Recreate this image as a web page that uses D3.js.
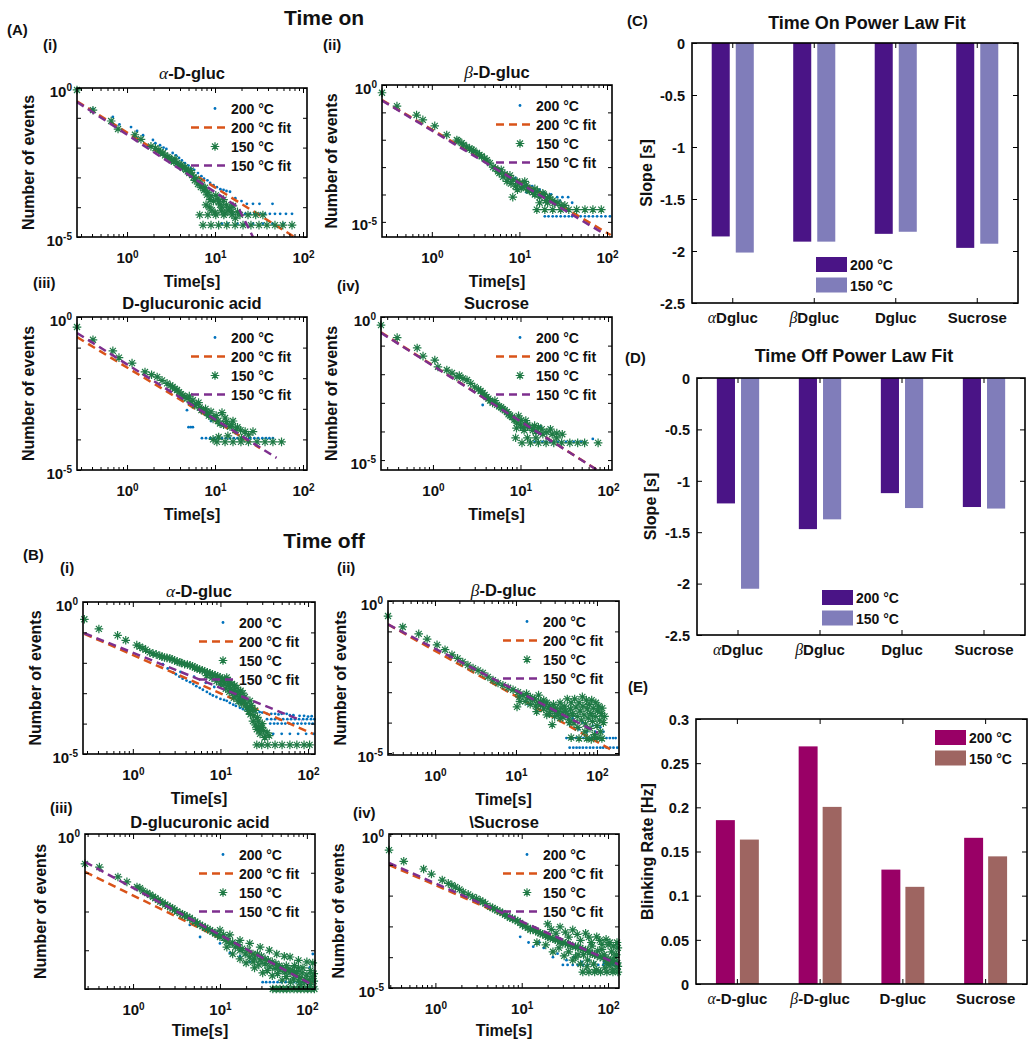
<!DOCTYPE html>
<html><head><meta charset="utf-8">
<script src="https://cdn.jsdelivr.net/npm/d3@7"></script>
<style>body{margin:0;background:#fff}svg{display:block}</style>
</head><body>
<svg id="fig" width="1035" height="1050"></svg>
<script>
// ================= DATA =================
const legendLabels = ["200 °C", "200 °C fit", "150 °C", "150 °C fit"];
const timeTicks = [1, 10, 100];
const countTicks = [1, 1e-1, 1e-2, 1e-3, 1e-4, 1e-5];
const labeledExponents = [0, -5];
const slopeTicks = [-2.5, -2, -1.5, -1, -0.5, 0];
const blinkTicks = [0, 0.05, 0.1, 0.15, 0.2, 0.25, 0.3];
const slopeCats = ["αDgluc", "βDgluc", "Dgluc", "Sucrose"];
const blinkCats = ["α-D-gluc", "β-D-gluc", "D-gluc", "Sucrose"];
const tempKeys = ["200 °C", "150 °C"];

const onSlope200 = [-1.86, -1.91, -1.835, -1.97];
const onSlope150 = [-2.015, -1.91, -1.815, -1.93];
const offSlope200 = [-1.22, -1.47, -1.12, -1.255];
const offSlope150 = [-2.05, -1.375, -1.265, -1.27];
const blink200 = [0.1855, 0.269, 0.1295, 0.1655];
const blink150 = [0.1635, 0.2005, 0.110, 0.1445];

// ---- Time on, alpha-D-gluc ----
const onAlpha200 = [[0.27,0.86],[0.41,0.2],[0.69,0.107],[0.82,0.06],[1.11,0.049],[1.3,0.036],[1.52,0.026],[1.97,0.018],[2.1,0.014],[2.37,0.012],[2.6,0.01],[2.8,0.009],[3.3,0.0066],[3.6,0.0055],[3.9,0.0045],[4.2,0.0037],[4.55,0.003],[5,0.0025],[5.3,0.002],[5.8,0.0018],[6.4,0.0014],[7,0.0011],[7.5,9e-4],[8.2,8e-4],[8.8,6.5e-4],[9.6,5.5e-4],[10.5,4.7e-4],[11.5,4e-4],[12.5,3.8e-4],[13.5,3.5e-4],[14.8,3.3e-4],[17,2e-4],[20,1.6e-4],[23,1.3e-4],[27,1.3e-4],[32,1.3e-4],[45,1.3e-4],
  [16,6e-5],[19,6e-5],[22,6e-5],[25,6e-5],[28,6e-5],[32,6e-5],[37,6e-5],[42,6e-5],[48,6e-5],[55,6e-5],[64,6e-5],[75,6e-5],
  [12,2.8e-5],[14,2.8e-5],[18,2.8e-5],[22,2.8e-5],[27,2.8e-5],[35,2.8e-5],[45,2.8e-5],[60,2.8e-5]];
const onAlpha150 = [[0.27,0.86],[0.41,0.18],[0.66,0.078],[0.79,0.042],[1.23,0.027],[1.44,0.019],[1.87,0.011],[2.1,0.0095],[2.3,0.0083],[2.4,0.007],[2.56,0.0066],[2.7,0.0055],[2.9,0.0048],[3.0,0.0045],[3.2,0.0038],[3.4,0.0034],[3.5,0.0042],[3.7,0.003],[3.9,0.0027],[4.1,0.0026],[4.3,0.0021],[4.55,0.0022],[4.7,0.0018],[4.9,0.0016],[5.1,0.0014],[5.3,0.0017],[5.5,0.0012],[5.7,0.001],[5.9,8e-4],[6.1,9e-4],[6.4,6e-4],[6.6,7e-4],[6.9,4.7e-4],[7.1,5.5e-4],[7.5,3.7e-4],[7.7,4.5e-4],[8.1,2.6e-4],[8.3,3.2e-4],[8.8,1.8e-4],[9,2.4e-4],[9.6,1.6e-4],[7.9,1.2e-4],[8.6,1e-4],[9.2,8e-5],[10,6.5e-5],[10.2,2.5e-4],[10.8,2e-4],[11,1.5e-4],[11.4,1.2e-4],[11.8,7.5e-5],[12,1e-4],[12.5,1.8e-4],[13,6.3e-5],[13.5,1.2e-4],[14,8e-5],[14.7,9.5e-5],[15.5,7e-5],[16,1.1e-4],[17,4.3e-5],[18,7e-5],
  [6.7,5.5e-5],[8.3,5.5e-5],[10.2,5.5e-5],[12.6,5.5e-5],[15.6,5.5e-5],[19.2,5.5e-5],[23.7,5.5e-5],[29,5.5e-5],[35,5.5e-5],
  [7.3,2.5e-5],[9,2.5e-5],[11,2.5e-5],[13.6,2.5e-5],[16.9,2.5e-5],[20.8,2.5e-5],[25.6,2.5e-5],[31.6,2.5e-5],[38.9,2.5e-5],[48,2.5e-5],[59,2.5e-5],[75,2.5e-5]];
const onAlphaFit200 = [[0.27,0.36],[80,1e-5]];
const onAlphaFit150 = [[0.27,0.34],[18.3,1e-4],[27,1e-5]];

// ---- Time on, beta-D-gluc ----
const onBeta200 = [[0.27,0.52],[0.4,0.17],[0.67,0.08],[1.08,0.032],[1.48,0.015],[2.5,0.0055],[4.25,0.0018],[6.5,4.4e-4],[7,6e-4],[9,4e-4],[10.1,2.6e-4],[11,3e-4],[12,1.2e-4],[13,2e-4],[14,2e-4],[15,1.3e-4],[17,1.5e-4],[19,1.2e-4],[22,9e-5],[23,1e-4],[27,8e-5],[31,8e-5],[36,8e-5],[29,6e-5],[40,5e-5],
  [19.5,1.6e-5],[21.5,1.6e-5],[24,1.6e-5],[26.5,1.6e-5],[29.6,1.6e-5],[33,1.6e-5],[36.6,1.6e-5],[40,1.6e-5],[45,1.6e-5],[50,1.6e-5],[56,1.6e-5],[62,1.6e-5],[69,1.6e-5],[77,1.6e-5],[86,1.6e-5],[96,1.6e-5],[108,1.6e-5]];
const onBeta150 = [[0.27,0.52],[0.4,0.17],[0.67,0.08],[0.79,0.053],[1.08,0.032],[1.48,0.015],[1.93,0.0098],[2.0,0.009],[2.2,0.0075],[2.3,0.0065],[2.5,0.0055],[2.7,0.0048],[2.85,0.0043],[3.0,0.004],[3.27,0.0033],[3.5,0.0028],[3.7,0.0025],[4.0,0.0021],[4.25,0.0018],[4.6,0.0014],[5,0.001],[5.3,9e-4],[5.7,7e-4],[5.9,6e-4],[6.2,8e-4],[6.5,4.4e-4],[6.8,5.5e-4],[7.2,3e-4],[7.5,4e-4],[7.8,5e-4],[8,2.5e-4],[8.5,3.5e-4],[8.4,8e-5],[9,2e-4],[9.4,3e-4],[9.5,1.5e-4],[10.1,2.6e-4],[10.5,1.7e-4],[11,1.9e-4],[11.5,3e-4],[12,2.2e-4],[12.5,1.5e-4],[13,1.4e-4],[14.2,1.2e-4],[15,1e-4],[15,1.6e-4],[16,1.3e-4],[17,8e-5],[18.5,1.1e-4],[19,1e-4],[20,6e-5],[21,7.5e-5],[22,8e-5],[24,6e-5],[25,5e-5],[27.5,5e-5],[30,4e-5],[33,4e-5],[17,5e-5],[21,5e-5],
  [15.8,2.8e-5],[19.5,2.8e-5],[24,2.8e-5],[29.6,2.8e-5],[36.6,2.8e-5],[45,2.8e-5],[56,2.8e-5],[69,2.8e-5],[86,2.8e-5]];
const onBetaFit200 = [[0.27,0.28],[110,3.3e-6]];
const onBetaFit150 = [[0.27,0.27],[85,4.3e-6]];

// ---- Time on, D-glucuronic acid ----
const onDglu200 = [[0.27,0.47],[0.41,0.18],[0.69,0.078],[1.14,0.031],[1.6,0.016],[2.2,0.011],[2.85,0.0068],[3.7,0.0041],[4.55,0.0024],[4.8,9e-4],[5.0,2.5e-4],[5.3,2.5e-4],[5.6,2.5e-4],[6,0.0014],[6.7,0.0011],[7.5,7e-4],[8.1,6e-4],[9,4e-4],
  [7.1,1.1e-4],[7.9,1.1e-4],[8.8,1.1e-4],[9.8,1.1e-4],[10.8,1.1e-4],[12,1.1e-4],[13.3,1.1e-4],[14.8,1.1e-4],[16.4,1.1e-4],[18,1.1e-4],[20,1.1e-4],[22.5,1.1e-4],[25,1.1e-4],[28,1.1e-4],[31,1.1e-4],[34.5,1.1e-4],[38,1.1e-4],[41.5,1.1e-4],[45.5,1.1e-4]];
const onDglu150 = [[0.27,0.47],[0.41,0.18],[0.69,0.078],[0.81,0.047],[1.14,0.031],[1.6,0.016],[1.9,0.013],[2.2,0.011],[2.5,0.0085],[2.85,0.0068],[3.1,0.0058],[3.3,0.0052],[3.5,0.0045],[3.7,0.0041],[3.9,0.0035],[4.1,0.003],[4.3,0.0027],[4.55,0.0024],[4.8,0.0022],[5.1,0.0026],[5.3,0.0017],[5.6,0.0019],[5.9,0.0013],[6.2,0.0014],[6.5,0.0016],[6.7,0.0011],[7,9e-4],[7.4,9e-4],[7.8,0.001],[8.1,7.5e-4],[8.5,6e-4],[9,8e-4],[9.5,4.7e-4],[10,5e-4],[10.3,6e-4],[10.8,4e-4],[11.4,3.3e-4],[12,7.5e-4],[12.5,3e-4],[13,5e-4],[13.5,3.8e-4],[14.8,2.6e-4],[15.5,3e-4],[16,4e-4],[17,2e-4],[18,2.5e-4],[19.5,2e-4],[22,1.8e-4],[24,1.4e-4],[27,1.8e-4],[9.5,1e-4],[11,1.2e-4],[14,1.3e-4],[20,1.1e-4],
  [10.5,8.3e-5],[13,8.3e-5],[16,8.3e-5],[19.7,8.3e-5],[24,8.3e-5],[30,8.3e-5],[37,8.3e-5],[45.5,8.3e-5],[57,8.3e-5]];
const onDgluFit200 = [[0.27,0.22],[32.5,5.2e-5]];
const onDgluFit150 = [[0.27,0.3],[50,2.5e-5]];

// ---- Time on, Sucrose ----
const onSuc200 = [[0.255,0.52],[0.39,0.19],[0.66,0.083],[1.05,0.031],[1.44,0.014],[2.45,0.0063],[3.7,8.4e-4],[5.4,8.5e-4],[8,3.2e-4],[10.7,1.4e-4],[12,1.6e-4],[13.8,1.2e-4],[17,1.5e-4],[22,1.3e-4],[67,5.5e-5],
  [13,4.3e-5],[14.5,4.3e-5],[16,4.3e-5],[17.8,4.3e-5],[19.6,4.3e-5],[21.8,4.3e-5],[24,4.3e-5],[26.7,4.3e-5],[29.5,4.3e-5],[33,4.3e-5],[36.6,4.3e-5],[40.5,4.3e-5],[45,4.3e-5],[49.5,4.3e-5],[54,4.3e-5]];
const onSuc150 = [[0.255,0.52],[0.39,0.19],[0.66,0.083],[0.77,0.043],[1.05,0.031],[1.14,0.018],[1.44,0.014],[1.65,0.011],[1.88,0.0081],[2.0,0.009],[2.2,0.0072],[2.45,0.0063],[2.7,0.0048],[3.0,0.0036],[3.3,0.003],[3.5,0.0026],[3.7,0.0022],[3.9,0.0019],[4.1,0.0016],[4.3,0.0014],[4.5,0.0012],[4.8,0.001],[5.1,0.0012],[5.4,8.5e-4],[5.7,7.5e-4],[6.0,7e-4],[6.3,6e-4],[6.6,5.6e-4],[7,4.8e-4],[7.3,4e-4],[7.6,3.6e-4],[8,3.2e-4],[8.5,2.6e-4],[9.1,2e-4],[9,1.3e-4],[9.5,3.5e-4],[10,1.7e-4],[10.2,2.5e-4],[10.7,1.4e-4],[11,1.1e-4],[11.5,2.4e-4],[12,1.7e-4],[12.8,1.4e-4],[13.8,1.1e-4],[14.5,1.6e-4],[15,1e-4],[16,1.4e-4],[17.5,1.2e-4],[18,8e-5],[20,9.5e-5],[22,1.2e-4],[23,8e-5],[26,8.8e-5],[26,6e-5],[30,8e-5],[8.8,6e-5],[12,6e-5],[15,6e-5],
  [10.4,4e-5],[13,4e-5],[16,4e-5],[19.6,4e-5],[24,4e-5],[29.5,4e-5],[36.6,4e-5],[45,4e-5],[54,4e-5],[77,4e-5]];
const onSucFit200 = [[0.255,0.29],[80,4e-6]];
const onSucFit150 = [[0.255,0.28],[75,4.5e-6]];

// ---- Time off, alpha-D-gluc ----
const offAlpha200 = [[0.28,0.27],[0.41,0.13],[0.67,0.08],[1.11,0.038],[1.56,0.022],[2.2,0.009],[2.5,0.0065],[2.87,0.0048],[3.1,0.0042],[3.4,0.0035],[3.5,0.005],[3.7,0.003],[4.1,0.0026],[4.5,0.0023],[4.9,0.002],[5,0.0035],[5.3,0.0017],[5.8,0.0015],[6.3,0.0013],[6.8,0.0022],[7,0.0011],[7.6,9.5e-4],[8.2,8.4e-4],[8.5,0.0016],[9,7.5e-4],[10,6.5e-4],[11,6e-4],[11.8,5.6e-4],[12.8,4.8e-4],[14,4.2e-4],[15,3.8e-4],[16.7,3.3e-4],[18,3e-4],[20,2.7e-4],[21,2.9e-4],[23.5,2.7e-4],[25,2.5e-4],[28,2.4e-4],[30,2.3e-4],[34,2.1e-4],[38,2.1e-4],[42,2.1e-4],[46,2e-4],[50,2.1e-4],[57,2.1e-4],[62,1.9e-4],[68,1.9e-4],[80,1.8e-4],[90,1.8e-4],[100,1.7e-4],[110,1.75e-4],
  [34,1.4e-4],[38,1.4e-4],[42,1.4e-4],[47,1.4e-4],[52,1.4e-4],[58,1.4e-4],[64,1.4e-4],[71,1.4e-4],[79,1.4e-4],[88,1.4e-4],[97,1.4e-4],[108,1.4e-4],[118,1.4e-4],
  [37,1e-4],[41,1e-4],[45,1e-4],[50,1e-4],[55,1e-4],[61,1e-4],[68,1e-4],[76,1e-4],[84,1e-4],[93,1e-4],[103,1e-4],[113,1e-4],
  [40,4.6e-5],[50,4.6e-5],[62,4.6e-5],[77,4.6e-5],[95,4.6e-5],[115,4.6e-5]];
const offAlpha150 = [[0.28,0.27],[0.41,0.13],[0.67,0.08],[0.83,0.055],[1.11,0.038],[1.2,0.034],[1.3,0.03],[1.4,0.027],[1.56,0.022],[1.7,0.02],[1.85,0.019],[2.03,0.017],[2.15,0.016],[2.3,0.015],[2.45,0.0145],[2.65,0.014],[2.8,0.013],[3.0,0.012],[3.2,0.011],[3.45,0.0103],[3.6,0.0098],[3.9,0.009],[4.2,0.0088],[4.5,0.0082],[4.8,0.0077],[5.1,0.007],[5.4,0.0065],[5.8,0.006],[6.2,0.0057],[6.6,0.0052],[7,0.0038],[7.1,0.0049],[7.6,0.0045],[8,0.0032],[8.1,0.0042],[8.7,0.0039],[9,0.0025],[9.3,0.0036],[9.9,0.0033],[10,0.002],[10.5,0.003],[10.8,0.0025],[11,0.002],[11.5,0.0014],[11.8,0.0033],[12,0.0027],[12.3,0.0018],[12.6,0.0011],[12.8,0.0023],[13,0.0014],[13.5,0.002],[13.8,0.001],[14,0.0012],[14.2,7e-4],[14.5,0.0018],[15,9e-4],[15.4,0.0015],[15.8,0.0011],[16,5.5e-4],[16.5,7.5e-4],[16.7,5.6e-4],[17,0.0012],[17.5,4.5e-4],[18,0.001],[18.5,6e-4],[19,7.5e-4],[19.5,4.5e-4],[20,3.3e-4],[20.5,3.5e-4],[21,2.5e-4],[21.7,5.6e-4],[22,2e-4],[22.5,4e-4],[23,3e-4],[23.5,1.2e-4],[24,1.8e-4],[24.8,2.7e-4],[25,9e-5],[26,6.5e-5],[26.5,1.6e-4],[27,1.2e-4],[27,8e-5],[28,6e-5],[28.3,4.6e-5],[29.6,7.4e-5],[30,1e-4],[31,6e-5],[32,3.5e-5],[34,5e-5],[36,4e-5],
  [26,2e-5],[29.6,2e-5],[34.7,2e-5],[42,2e-5],[50.5,2e-5],[62,2e-5],[74.5,2e-5],[90,2e-5],[104,2e-5]];
const offAlphaFit200 = [[0.28,0.09],[114,4.6e-5]];
const offAlphaFit150 = [[0.28,0.094],[85,1.25e-4]];

// ---- Time off, beta-D-gluc ----
const offBeta200 = [[0.263,0.32],[0.4,0.14],[0.63,0.083],[1.06,0.036],[1.62,0.017],[2.2,0.0099],[2.95,0.0062],[3.9,0.0043],[5.2,0.0025],[6.9,0.0017],[9.2,0.0012],[12.2,8e-4],[14,4e-4],[16.2,5.6e-4],[20,2.5e-4],[21.6,3.5e-4],[28.6,2.4e-4],[30,1.5e-4],[38,1.8e-4],[45,9e-5],[50,1.4e-4],[60,6e-5],[67,1e-4],[75,5e-5],[89,8e-5],[95,5e-5],[110,7e-5],[120,5e-5],
  [42,3.1e-5],[46,3.1e-5],[50,3.1e-5],[55,3.1e-5],[62,3.1e-5],[68,3.1e-5],[75,3.1e-5],[82,3.1e-5],[89,3.1e-5],[98,3.1e-5],[108,3.1e-5],[119,3.1e-5],[131,3.1e-5],[144,3.1e-5],[158,3.1e-5],[170,3.1e-5],
  [46,1.5e-5],[51,1.5e-5],[56,1.5e-5],[61,1.5e-5],[67,1.5e-5],[74,1.5e-5],[82,1.5e-5],[90,1.5e-5],[100,1.5e-5],[110,1.5e-5],[119,1.5e-5],[131,1.5e-5],[145,1.5e-5],[160,1.5e-5],[178,1.5e-5]];
const offBeta150 = [[0.263,0.32],[0.4,0.14],[0.63,0.083],[0.8,0.056],[1.06,0.036],[1.33,0.025],[1.62,0.017],[1.9,0.013],[2.2,0.0099],[2.55,0.0078],[2.95,0.0062],[3.4,0.0052],[3.9,0.0043],[4.5,0.0032],[5.2,0.0025],[6,0.002],[6.9,0.0017],[8,0.0014],[9.2,0.0012],[10.3,3.3e-4],[10.6,0.001],[11.2,5e-4],[12.2,8e-4],[14,6.5e-4],[16.2,5.6e-4],[18,2.3e-4],[18.8,4.5e-4],[20,5e-4],[21.6,4e-4],[24,1.8e-4],[25,3e-4],[28.6,2.7e-4],[28,8.6e-5],[33,2.3e-4],[35,1.4e-4],[38,2.1e-4],[44,1.8e-4],[46,1e-4],
  [11,7e-4],[13,5e-4],[13.5,9e-4],[15,7e-4],[15,4e-4],[17,6e-4],[17.5,3.5e-4],[19,8e-4],[20,3.8e-4],[22,5.5e-4],[22,2.8e-4],[24,4.5e-4],[26,3.5e-4],[26,2e-4],[29,4e-4],[30,1.6e-4],[31,3e-4],[33,2e-4],[35,4.5e-4],[36,3e-4],[38,1.5e-4],[40,3.5e-4],[41,2.4e-4],[43,6e-4],[45,1.3e-4],[47,2.8e-4],[48,4.5e-4],[50,2e-4],[52,1e-4],[53,6e-4],[55,3.2e-4],[57,1.6e-4],[58,7e-5],[60,4.5e-4],[62,2.4e-4],[64,1.2e-4],[66,7e-4],[67,3.5e-4],[69,1.8e-4],[71,5e-5],[72,9e-5],[74,5.5e-4],[76,2.8e-4],[78,1.4e-4],[80,4e-4],[82,6.5e-5],[84,2e-4],[86,5.5e-4],[88,1.1e-4],[90,3e-4],[93,4e-5],[95,1.6e-4],[97,4.5e-4],[100,8e-5],[102,2.4e-4],[105,3.5e-4],[108,1.2e-4],[110,5e-5],[113,2e-4],[116,3e-4],[120,1e-4],[124,1.6e-4],
  [48,3.2e-5],[60,3e-5],[75,3e-5],[85,2.8e-5],[100,3.2e-5],[115,3e-5]];
const offBetaFit200 = [[0.263,0.17],[145,1.35e-5]];
const offBetaFit150 = [[0.263,0.17],[103,4.6e-5]];

// ---- Time off, D-glucuronic acid ----
const offDglu200 = [[0.28,0.17],[0.41,0.14],[0.67,0.078],[1.11,0.043],[2.05,0.018],[3.47,0.0091],[4.5,0.0045],[5.9,0.0022],[10,0.0015],[13,8.5e-4],[17,7e-4],[22,5e-4],[108,3.6e-4],[117,8e-4],
  [31,1.5e-4],[34,1.5e-4],[37.6,1.5e-4],[41.5,1.5e-4],[46,1.5e-4],[51,1.5e-4],[57,1.5e-4],[63,1.5e-4],[71,1.5e-4],[78,1.5e-4],[88,1.5e-4],[97,1.5e-4],[108,1.5e-4],[118,1.5e-4]];
const offDglu150 = [[0.28,0.17],[0.41,0.14],[0.67,0.078],[0.85,0.058],[1.11,0.043],[1.2,0.04],[1.3,0.034],[1.45,0.03],[1.57,0.027],[1.7,0.024],[1.8,0.022],[1.95,0.02],[2.05,0.018],[2.2,0.017],[2.35,0.015],[2.5,0.014],[2.66,0.013],[2.85,0.012],[3.0,0.011],[3.2,0.01],[3.47,0.0091],[3.7,0.0085],[3.9,0.008],[4.2,0.0073],[4.5,0.0068],[4.8,0.006],[5.2,0.0055],[5.5,0.005],[5.9,0.0045],[6.3,0.0042],[6.8,0.0038],[7.2,0.0035],[7.7,0.0033],[8.2,0.003],[8.8,0.0027],[9.4,0.0025],[10,0.0022],[11,0.0025],[11.5,0.0018],[12,0.002],[13,0.0015],[14,0.0016],[15,0.0012],[16,0.0014],[17,0.001],[18,0.0011],[19.5,8e-4],[21,0.001],[22,6.7e-4],[24,8e-4],[24,5e-4],[25,6e-4],[27,8e-4],[28,4.2e-4],[29,5.6e-4],[30,7e-4],[33,4.5e-4],[33,6e-4],[35,3e-4],[36,5.5e-4],[37.6,3.7e-4],[40,5e-4],[43,3.4e-4],[44,4.5e-4],[46,2.5e-4],[48,4e-4],[49,3.1e-4],[52,3.6e-4],[56,2.8e-4],[58,4e-4],[58,2.1e-4],[62,3.3e-4],[64,2.6e-4],[68,3e-4],[70,1.8e-4],[72,4e-4],[73,2.3e-4],[76,2.8e-4],[80,3.5e-4],[80,1.6e-4],[83,2e-4],[88,2.6e-4],[90,3.5e-4],[95,1.8e-4],[95,1.5e-4],[100,2.3e-4],[108,1.7e-4],[110,3e-4],[110,1.3e-4],[115,2.1e-4],[120,2.5e-4],[120,1.6e-4],
  [10,0.0033],[13,0.0025],[17,0.0018],[22,0.0015],[29,0.0012],[37,0.001],[45,8e-4],[55,7e-4],[64,6.7e-4],[80,5.5e-4],[100,5e-4],[117,4.7e-4],
  [12,0.0012],[14,8e-4],[17,6e-4],[20,4.7e-4],[25,3.5e-4],[31,2.6e-4],[40,2.2e-4],[52,1.7e-4],[65,1.5e-4],[85,1.3e-4],
  [40.5,1e-4],[44.5,1e-4],[49,1e-4],[53.5,1e-4],[58.6,1e-4],[64,1e-4],[71,1e-4],[77.5,1e-4],[85,1e-4],[93,1e-4],[102,1e-4],[112,1e-4],[122,1e-4]];
const offDgluFit200 = [[0.28,0.105],[117,1.4e-4]];
const offDgluFit150 = [[0.28,0.19],[117,1.26e-4]];

// ---- Time off, Sucrose ----
const offSuc200 = [[0.29,0.3],[0.43,0.13],[0.73,0.073],[1.2,0.032],[2.1,0.013],[3.3,0.007],[5.6,0.003],[9.6,4.6e-4],[12,3e-4],[13.6,2.2e-4],[16,3e-4],[18,2e-4],[23,1e-4],[26,1.3e-4],[33,8e-5],[40,1e-4],[50,7e-5],[60,8e-5],[70,6.5e-5],[90,7e-5],[110,6e-5],
  [30,5.6e-5],[34,5.6e-5],[39,5.6e-5],[44.5,5.6e-5],[51,5.6e-5],[58,5.6e-5],[67,5.6e-5],[77,5.6e-5],[88,5.6e-5],[100,5.6e-5],[114,5.6e-5],[125,5.6e-5]];
const offSuc150 = [[0.29,0.3],[0.43,0.13],[0.73,0.073],[0.9,0.05],[1.2,0.032],[1.41,0.025],[1.55,0.022],[1.7,0.019],[1.9,0.016],[2.1,0.013],[2.4,0.011],[2.7,0.009],[3.0,0.008],[3.3,0.007],[3.55,0.0062],[3.8,0.0055],[4.3,0.0043],[4.6,0.004],[4.9,0.0036],[5.2,0.0033],[5.6,0.003],[6.0,0.0027],[6.4,0.0024],[6.8,0.0022],[7.3,0.0019],[7.8,0.0018],[8.4,0.0016],[9,0.0015],[9.6,0.0013],[10.2,0.0011],[11,0.001],[11.8,9e-4],[12.6,7.7e-4],[13.5,8e-4],[14.5,7e-4],[15.5,6.5e-4],[16.4,6e-4],[17.5,5.5e-4],[19,5e-4],[20,4.6e-4],[21.4,4.2e-4],[23,4e-4],[24.5,3.7e-4],[26,3.5e-4],[27.8,3.2e-4],[30,3e-4],[32,2.8e-4],[34,2.6e-4],[36.4,2.5e-4],[39,2.3e-4],[42,2.2e-4],[45,2.1e-4],[47.5,2e-4],[51,1.8e-4],[55,1.7e-4],[58,1.6e-4],[62,1.4e-4],[66,1.3e-4],[70,1.2e-4],[75,1.1e-4],[81,1e-4],[88,9.5e-5],[95,9e-5],[100,8.5e-5],[106,8e-5],[113,7.5e-5],[120,7e-5],[128,6.5e-5],
  [20,0.0012],[22,8e-4],[25,6e-4],[27.8,9.6e-4],[32,6.5e-4],[35,4.5e-4],[39,7.7e-4],[44,5.5e-4],[48,3.5e-4],[55,6e-4],[60,4.5e-4],[64,3e-4],[74,4.6e-4],[80,3.5e-4],[85,2.6e-4],[95,3.8e-4],[105,3e-4],[115,2.3e-4],[127,3e-4],[130,2e-4],
  [15,3e-4],[19,2.5e-4],[23,1.5e-4],[27,2e-4],[31,1.1e-4],[35,1.5e-4],[39,8e-5],[42,1e-4],[45,1.2e-4],[48,6e-5],[52,1.2e-4],[57,4.9e-5],[58,8e-5],[65,2.3e-4],[68,6e-5],[74,3.9e-5],[76,1.6e-4],[85,1.8e-4],[90,1.2e-4],[92,4.5e-5],[97,6.3e-5],[100,2.5e-4],[105,5.5e-5],[110,1.5e-4],[114,3.9e-5],[120,1e-4],[125,1.2e-4],[130,5e-5],
  [51,3.3e-5],[60,3.3e-5],[70,3.3e-5],[82,3.3e-5],[97,3.3e-5],[114,3.3e-5],[130,3.3e-5]];
const offSucFit200 = [[0.29,0.1],[137,5.2e-5]];
const offSucFit150 = [[0.29,0.115],[137,5.6e-5]];

// ================= STYLE / LAYOUT =================
const FONT = "'Liberation Sans', Arial, Helvetica, sans-serif";
const SERIF = "'Liberation Serif', 'DejaVu Serif', serif";
const BLUE = "#0072bd", ORANGE = "#d95319", GREEN = "#1f7a45", PURPLE = "#7e2f8e";
const svg = d3.select("#fig").attr("font-family", FONT);

const scatterPanels = [
  {box:[77,88,307,237],  xd:[0.27,111],  yd:[1e-5,1],   title:"α-D-gluc",          tY:79,  yl:28,  xlY:287, s200:onAlpha200, s150:onAlpha150, f200:onAlphaFit200, f150:onAlphaFit150},
  {box:[382,85,612,237], xd:[0.27,114],  yd:[2.8e-6,1], title:"β-D-gluc",          tY:78,  yl:331, xlY:287, s200:onBeta200,  s150:onBeta150,  f200:onBetaFit200,  f150:onBetaFit150},
  {box:[77,317,307,470], xd:[0.27,111],  yd:[1e-5,1],   title:"D-glucuronic acid", tY:309, yl:28,  xlY:520, s200:onDglu200,  s150:onDglu150,  f200:onDgluFit200,  f150:onDgluFit150},
  {box:[381,317,612,470],xd:[0.255,111], yd:[4.5e-6,1], title:"Sucrose",           tY:309, yl:331, xlY:520, s200:onSuc200,   s150:onSuc150,   f200:onSucFit200,   f150:onSucFit150},
  {box:[83,602,315,754], xd:[0.27,120],  yd:[1e-5,1],   title:"α-D-gluc",          tY:597, yl:35,  xlY:804, s200:offAlpha200,s150:offAlpha150,f200:offAlphaFit200,f150:offAlphaFit150},
  {box:[388,601,619,755],xd:[0.263,187], yd:[8.6e-6,1], title:"β-D-gluc",          tY:596, yl:340, xlY:805, s200:offBeta200, s150:offBeta150, f200:offBetaFit200, f150:offBetaFit150},
  {box:[85,834,315,989], xd:[0.28,124],  yd:[1e-4,1],   title:"D-glucuronic acid", tY:828, yl:40,  xlY:1036,s200:offDglu200, s150:offDglu150, f200:offDgluFit200, f150:offDgluFit150},
  {box:[389,834,619,988],xd:[0.29,134],  yd:[1e-5,1],   title:"\\Sucrose",         tY:828, yl:338, xlY:1036,s200:offSuc200,  s150:offSuc150,  f200:offSucFit200,  f150:offSucFit150}
];

const annotations = [
  {t:"(A)", x:7, y:35}, {t:"(i)", x:43, y:50}, {t:"(ii)", x:323, y:50},
  {t:"Time on", x:324, y:25, s:21, a:"middle"}, {t:"(C)", x:627, y:26},
  {t:"(iii)", x:33, y:288}, {t:"(iv)", x:337, y:291}, {t:"(D)", x:625, y:363},
  {t:"(B)", x:23, y:560}, {t:"(i)", x:60, y:573},
  {t:"Time off", x:324, y:548, s:21, a:"middle"}, {t:"(ii)", x:337, y:573},
  {t:"(E)", x:628, y:692}, {t:"(iii)", x:50, y:813}, {t:"(iv)", x:353, y:818}
];

const r = 4.3, q = 3.0;
const ASTER = `M${-r},0H${r}M0,${-r}V${r}M${-q},${-q}L${q},${q}M${-q},${q}L${q},${-q}`;

function richText(sel, str, size) {
  const c = str[0];
  if (c === "α" || c === "β") {
    sel.append("tspan").attr("font-family", SERIF).attr("font-style", "italic")
      .attr("font-weight", "normal").attr("font-size", size * 1.05).text(c);
    sel.append("tspan").text(str.slice(1));
  } else sel.text(str);
}
function supLabel(sel, v) {
  sel.text(null);
  sel.append("tspan").text("10");
  sel.append("tspan").attr("dy", "-0.55em").attr("font-size", "10px").text(String(Math.round(Math.log10(v))));
}
const isDecade = v => Math.abs(Math.log10(v) - Math.round(Math.log10(v))) < 1e-6;

function styleAxis(g, size) {
  g.attr("font-family", FONT).attr("font-size", size).attr("font-weight", "bold");
  g.select(".domain").remove();
  g.selectAll("line").attr("stroke", "#000");
  g.selectAll("text").attr("fill", "#111");
}

function drawScatter(p, i) {
  const [L, T, R, B] = p.box;
  const x = d3.scaleLog().domain(p.xd).range([L, R]);
  const y = d3.scaleLog().domain(p.yd).range([B, T]);
  const cid = "clip" + i;
  svg.append("clipPath").attr("id", cid).append("rect")
    .attr("x", L).attr("y", T).attr("width", R - L).attr("height", B - T);
  const g = svg.append("g");
  const line = d3.line().x(d => x(d[0])).y(d => y(d[1]));

  g.append("g").selectAll("circle").data(p.s200).join("circle")
    .attr("cx", d => x(d[0])).attr("cy", d => y(d[1])).attr("r", 1.4).attr("fill", BLUE);
  g.append("path").attr("d", line(p.f200)).attr("clip-path", `url(#${cid})`)
    .attr("fill", "none").attr("stroke", ORANGE).attr("stroke-width", 2.5).attr("stroke-dasharray", "8,5");
  g.append("g").selectAll("path").data(p.s150).join("path")
    .attr("transform", d => `translate(${x(d[0])},${y(d[1])})`)
    .attr("d", ASTER).attr("fill", "none").attr("stroke", GREEN).attr("stroke-width", 1.2);
  g.append("path").attr("d", line(p.f150)).attr("clip-path", `url(#${cid})`)
    .attr("fill", "none").attr("stroke", PURPLE).attr("stroke-width", 2.5).attr("stroke-dasharray", "8,5");

  const majors = timeTicks.filter(v => v >= p.xd[0] && v <= p.xd[1]);
  const minors = x.ticks().filter(v => !isDecade(v));
  const yt = countTicks.filter(v => v >= p.yd[0] * 0.999 && v <= p.yd[1] * 1.001);

  const gx = g.append("g").attr("transform", `translate(0,${B})`)
    .call(d3.axisBottom(x).tickValues(majors).tickSizeInner(-5).tickSizeOuter(0));
  styleAxis(gx, 15);
  gx.selectAll("text").attr("dy", null).attr("y", 26).each(function(d) { supLabel(d3.select(this), d); });
  const gxm = g.append("g").attr("transform", `translate(0,${B})`)
    .call(d3.axisBottom(x).tickValues(minors).tickSizeInner(-3).tickSizeOuter(0).tickFormat(() => ""));
  styleAxis(gxm, 10);
  const gt = g.append("g").attr("transform", `translate(0,${T})`)
    .call(d3.axisTop(x).tickValues(majors).tickSizeInner(-5).tickSizeOuter(0).tickFormat(() => ""));
  styleAxis(gt, 10);
  const gtm = g.append("g").attr("transform", `translate(0,${T})`)
    .call(d3.axisTop(x).tickValues(minors).tickSizeInner(-3).tickSizeOuter(0).tickFormat(() => ""));
  styleAxis(gtm, 10);

  const gy = g.append("g").attr("transform", `translate(${L},0)`)
    .call(d3.axisLeft(y).tickValues(yt).tickSizeInner(-4).tickSizeOuter(0).tickPadding(5));
  styleAxis(gy, 15);
  gy.selectAll("text").attr("dy", null).attr("y", 8).each(function(d) {
    const e = Math.round(Math.log10(d));
    if (labeledExponents.includes(e)) supLabel(d3.select(this), d); else d3.select(this).text(null);
  });
  const gr = g.append("g").attr("transform", `translate(${R},0)`)
    .call(d3.axisRight(y).tickValues(yt).tickSizeInner(-4).tickSizeOuter(0).tickFormat(() => ""));
  styleAxis(gr, 10);

  g.append("rect").attr("x", L).attr("y", T).attr("width", R - L).attr("height", B - T)
    .attr("fill", "none").attr("stroke", "#000").attr("stroke-width", 1.6);

  const tt = g.append("text").attr("x", (L + R) / 2).attr("y", p.tY).attr("text-anchor", "middle")
    .attr("font-size", 16.5).attr("font-weight", "bold").attr("fill", "#111");
  richText(tt, p.title, 16.5);
  g.append("text").attr("x", (L + R) / 2).attr("y", p.xlY).attr("text-anchor", "middle")
    .attr("font-size", 16).attr("font-weight", "bold").attr("fill", "#111").text("Time[s]");
  g.append("text").attr("transform", `translate(${p.yl},${(T + B) / 2}) rotate(-90)`).attr("dy", "0.35em")
    .attr("text-anchor", "middle").attr("font-size", 16).attr("font-weight", "bold").attr("fill", "#111")
    .text("Number of events");

  const rows = [20.5, 39.5, 58.5, 77.5];
  const lg = g.append("g");
  legendLabels.forEach((lab, k) => {
    const yy = T + rows[k];
    if (k === 0) lg.append("circle").attr("cx", R - 92).attr("cy", yy).attr("r", 1.4).attr("fill", BLUE);
    if (k === 2) lg.append("path").attr("transform", `translate(${R - 92},${yy})`).attr("d", ASTER)
      .attr("fill", "none").attr("stroke", GREEN).attr("stroke-width", 1.2);
    if (k === 1 || k === 3) lg.append("line").attr("x1", R - 116).attr("x2", R - 79).attr("y1", yy).attr("y2", yy)
      .attr("stroke", k === 1 ? ORANGE : PURPLE).attr("stroke-width", 2.5).attr("stroke-dasharray", "8,5");
    lg.append("text").attr("x", R - 76).attr("y", yy + 5).attr("font-size", 14).attr("font-weight", "bold")
      .attr("fill", "#111").text(lab);
  });
}
scatterPanels.forEach(drawScatter);

// ================= BAR CHARTS =================
const barPanels = [
  {box:[692,43,1018,303], cats:slopeCats, v200:onSlope200, v150:onSlope150, yd:[-2.5,0], ticks:slopeTicks,
   c200:"#4a1486", c150:"#807dba", title:"Time On Power Law Fit", tX:867, tY:29, yl:"Slope [s]", ylX:646,
   leg:[816,257], pi:0.25, po:0.82},
  {box:[697,378,1025,635], cats:slopeCats, v200:offSlope200, v150:offSlope150, yd:[-2.5,0], ticks:slopeTicks,
   c200:"#4a1486", c150:"#807dba", title:"Time Off Power Law Fit", tX:854, tY:362, yl:"Slope [s]", ylX:650,
   leg:[822,590], pi:0.25, po:0.82},
  {box:[696,719,1027,984], cats:blinkCats, v200:blink200, v150:blink150, yd:[0,0.3], ticks:blinkTicks,
   c200:"#990066", c150:"#9e6561", title:null, yl:"Blinking Rate [Hz]", ylX:647,
   leg:[935,730], pi:0.21, po:0.83}
];

function drawBars(p) {
  const [L, T, R, B] = p.box;
  const x = d3.scaleBand().domain(p.cats).range([L, R]).paddingInner(0).paddingOuter(0);
  const xi = d3.scaleBand().domain(tempKeys).range([0, x.bandwidth()]).paddingInner(p.pi).paddingOuter(p.po);
  const y = d3.scaleLinear().domain(p.yd).range([B, T]);
  const g = svg.append("g");
  [[p.v200, p.c200, tempKeys[0]], [p.v150, p.c150, tempKeys[1]]].forEach(([vals, col, key]) => {
    g.append("g").selectAll("rect").data(vals).join("rect")
      .attr("x", (d, k) => x(p.cats[k]) + xi(key)).attr("width", xi.bandwidth())
      .attr("y", d => Math.min(y(0), y(d))).attr("height", d => Math.abs(y(d) - y(0)))
      .attr("fill", col);
  });

  const gx = g.append("g").attr("transform", `translate(0,${B})`)
    .call(d3.axisBottom(x).tickSizeInner(-5).tickSizeOuter(0));
  styleAxis(gx, 15);
  gx.selectAll("text").attr("dy", null).attr("y", 20).each(function(d) {
    const t = d3.select(this); t.text(null); richText(t, d, 15);
  });
  const gt = g.append("g").attr("transform", `translate(0,${T})`)
    .call(d3.axisTop(x).tickSizeInner(-5).tickSizeOuter(0).tickFormat(() => ""));
  styleAxis(gt, 10);
  const gy = g.append("g").attr("transform", `translate(${L},0)`)
    .call(d3.axisLeft(y).tickValues(p.ticks).tickSizeInner(-5).tickSizeOuter(0).tickPadding(7).tickFormat(d => String(d)));
  styleAxis(gy, 14.5);
  gy.selectAll("text").attr("dy", "0.36em");
  const gr = g.append("g").attr("transform", `translate(${R},0)`)
    .call(d3.axisRight(y).tickValues(p.ticks).tickSizeInner(-5).tickSizeOuter(0).tickFormat(() => ""));
  styleAxis(gr, 10);

  g.append("rect").attr("x", L).attr("y", T).attr("width", R - L).attr("height", B - T)
    .attr("fill", "none").attr("stroke", "#000").attr("stroke-width", 1.6);

  if (p.title) g.append("text").attr("x", p.tX).attr("y", p.tY).attr("text-anchor", "middle")
    .attr("font-size", 18).attr("font-weight", "bold").attr("fill", "#111").text(p.title);
  g.append("text").attr("transform", `translate(${p.ylX},${(T + B) / 2}) rotate(-90)`).attr("dy", "0.35em")
    .attr("text-anchor", "middle").attr("font-size", 16).attr("font-weight", "bold").attr("fill", "#111").text(p.yl);

  const [lx, ly] = p.leg;
  tempKeys.forEach((k, j) => {
    g.append("rect").attr("x", lx).attr("y", ly + j * 20.5).attr("width", 31).attr("height", 15)
      .attr("fill", j === 0 ? p.c200 : p.c150);
    g.append("text").attr("x", lx + 34).attr("y", ly + j * 20.5 + 13).attr("font-size", 14)
      .attr("font-weight", "bold").attr("fill", "#111").text(k);
  });
}
barPanels.forEach(drawBars);

// ================= ANNOTATIONS =================
svg.append("g").selectAll("text").data(annotations).join("text")
  .attr("x", d => d.x).attr("y", d => d.y).attr("text-anchor", d => d.a || "start")
  .attr("font-size", d => d.s || 15).attr("font-weight", "bold").attr("fill", "#111").text(d => d.t);
</script>
</body></html>
